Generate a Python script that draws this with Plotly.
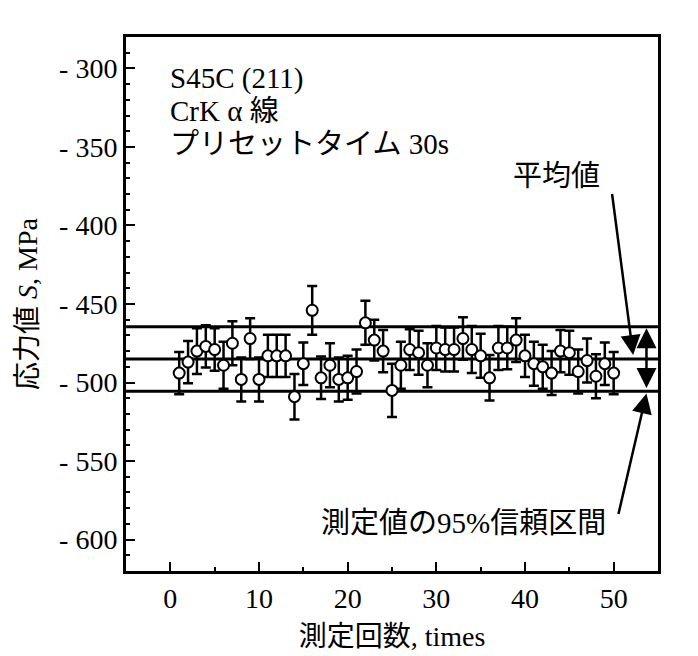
import plotly.graph_objects as go

# ---- data ----
times = list(range(1, 51))
stress = [-494, -487, -480, -477, -479, -489, -475, -498, -472, -498,
          -483, -483, -483, -509, -488, -454, -497, -489, -498, -497,
          -493, -462, -473, -480, -505, -489, -479, -481, -489, -478,
          -479, -479, -472, -479, -483, -497, -478, -478, -473, -483,
          -488, -490, -494, -480, -481, -493, -486, -496, -488, -494]
stress_err = [13.5, 13.5, 14.5, 13.5, 13.5, 15, 14, 14, 13, 14,
              13.5, 13.5, 13.5, 14.5, 13.5, 15.5, 13.5, 14, 14, 14,
              14, 14, 13, 13.5, 17, 15, 13, 14, 14, 14,
              14, 14, 13.5, 15, 14, 14.5, 14, 13.5, 14, 13.5,
              14, 14, 14, 13.5, 14, 14, 14, 14, 13.5, 13.5]
mean_value = -485
ci_upper = -464.5
ci_lower = -505.5

x_ticks = [0, 10, 20, 30, 40, 50]
y_ticks = [-600, -550, -500, -450, -400, -350, -300]
y_ticktext = ["- 600", "- 550", "- 500", "- 450", "- 400", "- 350", "- 300"]

info_lines = ["S45C (211)", "CrK α 線", "プリセットタイム 30s"]
info_y = [-306.4, -327.4, -348.4]
mean_label = "平均値"
ci_label = "測定値の95%信頼区間"
x_title = "測定回数, times"
y_title = "応力値 <i>S</i>, MPa"

FONT = "Liberation Serif, Noto Sans CJK JP, serif"

fig = go.Figure()
fig.add_trace(go.Scatter(
    x=times, y=stress, mode="markers",
    marker=dict(symbol="circle", size=11, color="white",
                line=dict(color="black", width=2)),
    error_y=dict(type="data", array=stress_err, visible=True,
                 color="black", thickness=2.5, width=5),
    showlegend=False, cliponaxis=False,
))

for yv in (ci_upper, mean_value, ci_lower):
    fig.add_shape(type="line", xref="x domain", yref="y", x0=0, x1=1,
                  y0=yv, y1=yv, line=dict(color="black", width=3), layer="below")

ann = []
for t, yv in zip(info_lines, info_y):
    ann.append(dict(x=-0.25, y=yv, xref="x", yref="y",
                    text=t, showarrow=False, xanchor="left", yanchor="middle",
                    font=dict(family=FONT, size=29, color="black")))
ann.append(dict(x=43.5, y=-368.2, xref="x", yref="y", text=mean_label,
                showarrow=False, xanchor="center", yanchor="middle",
                font=dict(family=FONT, size=29, color="black")))
ann.append(dict(x=49.4, y=-589.2, xref="x", yref="y", text=ci_label,
                showarrow=False, xanchor="right", yanchor="middle",
                font=dict(family=FONT, size=29, color="black")))
# arrow to mean line
ann.append(dict(x=52.2, y=mean_value + 2.5, ax=49.8, ay=-379, xref="x", yref="y",
                axref="x", ayref="y", text="", showarrow=True, arrowhead=2,
                arrowsize=1.6, arrowwidth=2.5, arrowcolor="black"))
# double arrow spanning confidence interval
ann.append(dict(x=53.7, y=ci_upper - 1, ax=53.7, ay=ci_lower + 1, xref="x", yref="y",
                axref="x", ayref="y", text="", showarrow=True, arrowhead=2,
                startarrowhead=2, arrowside="end+start", arrowsize=1.6,
                startarrowsize=1.6, arrowwidth=2.5, arrowcolor="black"))
# arrow to lower CI line
ann.append(dict(x=53.7, y=ci_lower - 1.5, ax=50.5, ay=-584.7, xref="x", yref="y",
                axref="x", ayref="y", text="", showarrow=True, arrowhead=2,
                arrowsize=1.6, arrowwidth=2.5, arrowcolor="black"))

fig.update_layout(
    width=698, height=656,
    margin=dict(l=118, r=48, t=29, b=93, autoexpand=False),
    paper_bgcolor="white", plot_bgcolor="white",
    font=dict(family=FONT, size=28, color="black"),
    annotations=ann,
    xaxis=dict(range=[-5, 55], tickvals=x_ticks, ticks="inside", ticklen=9,
               tickwidth=2, tickcolor="black", showline=True, linewidth=3,
               linecolor="black", mirror=True, showgrid=False, zeroline=False,
               tickfont=dict(family=FONT, size=28), automargin=False,
               minor=dict(dtick=5, ticks="inside", ticklen=4, tickwidth=2,
                          tickcolor="black", showgrid=False),
               title=dict(text=x_title, font=dict(family=FONT, size=28), standoff=14)),
    yaxis=dict(range=[-620, -280], tickvals=y_ticks, ticktext=y_ticktext,
               ticks="inside", ticklen=9, tickwidth=2, tickcolor="black",
               showline=True, linewidth=3, linecolor="black", mirror=True,
               showgrid=False, zeroline=False, automargin=False,
               tickfont=dict(family=FONT, size=28),
               minor=dict(dtick=10, ticks="inside", ticklen=4, tickwidth=2,
                          tickcolor="black", showgrid=False),
               title=dict(text=y_title, font=dict(family=FONT, size=28), standoff=14)),
)

fig.write_html("out.html")
